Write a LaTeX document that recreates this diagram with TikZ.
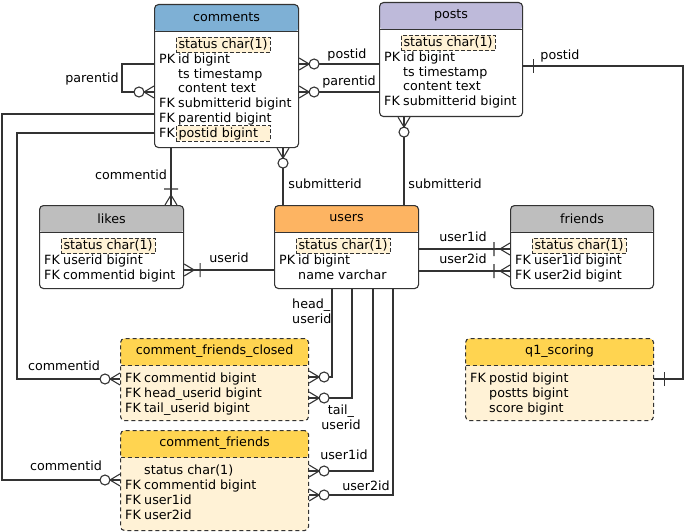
\documentclass[tikz,border=0pt]{standalone}
\usepackage{fontspec}
\setmainfont{DejaVu Sans}
\usetikzlibrary{calc}

\definecolor{cmhead}{HTML}{7EB0D5}
\definecolor{pshead}{HTML}{BEBADA}
\definecolor{ushead}{HTML}{FDB462}
\definecolor{grhead}{HTML}{BEBEBE}
\definecolor{ylhead}{HTML}{FFD450}
\definecolor{cream}{HTML}{FFF2D6}
\definecolor{ink}{HTML}{333333}

% zero or many
\pgfdeclarearrow{
  name = zmany,
  setup code = {
    \pgfarrowssettipend{0pt}
    \pgfarrowssetlineend{0pt}
    \pgfarrowssetbackend{-20pt}
  },
  drawing code = {
    \pgfsetdash{}{0pt}
    \pgfpathmoveto{\pgfqpoint{0pt}{6pt}}
    \pgfpathlineto{\pgfqpoint{-10pt}{0pt}}
    \pgfpathlineto{\pgfqpoint{0pt}{-6pt}}
    \pgfusepathqstroke
    \pgfpathcircle{\pgfqpoint{-15pt}{0pt}}{5pt}
    \pgfsetfillcolor{white}
    \pgfusepathqfillstroke
  }
}
% one or many
\pgfdeclarearrow{
  name = omany,
  setup code = {
    \pgfarrowssettipend{0pt}
    \pgfarrowssetlineend{0pt}
    \pgfarrowssetbackend{-17pt}
  },
  drawing code = {
    \pgfsetdash{}{0pt}
    \pgfpathmoveto{\pgfqpoint{0pt}{6pt}}
    \pgfpathlineto{\pgfqpoint{-10pt}{0pt}}
    \pgfpathlineto{\pgfqpoint{0pt}{-6pt}}
    \pgfpathmoveto{\pgfqpoint{-16pt}{7pt}}
    \pgfpathlineto{\pgfqpoint{-16pt}{-7pt}}
    \pgfusepathqstroke
  }
}
% exactly one
\pgfdeclarearrow{
  name = one,
  setup code = {
    \pgfarrowssettipend{0pt}
    \pgfarrowssetlineend{0pt}
    \pgfarrowssetbackend{-11pt}
  },
  drawing code = {
    \pgfsetdash{}{0pt}
    \pgfpathmoveto{\pgfqpoint{-10pt}{7pt}}
    \pgfpathlineto{\pgfqpoint{-10pt}{-7pt}}
    \pgfusepathqstroke
  }
}

% one field row: [opts]{table}{index}{prefix}{text}
\newcommand{\erfld}[5][]{%
  \node[fldtxt] (#2-#3p) at ($(#2.north west)+(5,{41+14.75*#3})$) {#4};
  \node[fldtxt, #1] (#2-#3) at ($(#2.north west)+(24,{41+14.75*#3})$) {#5};
}

\tikzset{
  sepline/.style={},
  tbl/.style={draw=ink, line width=1.1pt, rounded corners=4pt, fill=white,
    inner sep=0pt, anchor=north west,
    path picture={
      \fill[#1] (path picture bounding box.north west) rectangle
        ([yshift=-27pt]path picture bounding box.north east);
      \draw[ink, line width=1.1pt, sepline]
        ([yshift=-27pt]path picture bounding box.north west) --
        ([yshift=-27pt]path picture bounding box.north east);
    }},
  vtbl/.style={tbl=#1, fill=cream, dash pattern=on 4pt off 3pt,
    sepline/.style={dash pattern=on 4pt off 3pt}},
  ttl/.style={inner sep=0pt},
  fldtxt/.style={inner sep=0pt, anchor=west, text height=10pt, text depth=2.5pt},
  hl/.style={draw=ink, line width=1.1pt, dash pattern=on 4pt off 2pt, fill=cream,
    inner xsep=2.5pt, inner ysep=1.5pt, xshift=-2.5pt},
  lbl/.style={inner sep=0pt, text height=10pt, text depth=2.5pt},
  rel/.style={draw=ink, line width=1.1pt}
}

\begin{document}
\begin{tikzpicture}[x=1pt, y=-1pt, font=\fontsize{12.7}{14.7}\selectfont]
  \useasboundingbox (0,0) rectangle (685,532);

  % tables
  \node[tbl=cmhead, minimum width=144pt, minimum height=143pt] (cm) at (154,4) {};
  \node[ttl] (cm-t) at ($(cm.north)+(0,13.5)$) {comments};
  \erfld[hl]{cm}{0}{}{status char(1)}
  \erfld{cm}{1}{PK}{id bigint}
  \erfld{cm}{2}{}{ts timestamp}
  \erfld{cm}{3}{}{content text}
  \erfld{cm}{4}{FK}{submitterid bigint}
  \erfld{cm}{5}{FK}{parentid bigint}
  \erfld[hl, text width=89pt, align=left]{cm}{6}{FK}{postid bigint}

  \node[tbl=pshead, minimum width=143pt, minimum height=114pt] (ps) at (379,2) {};
  \node[ttl] (ps-t) at ($(ps.north)+(0,13.5)$) {posts};
  \erfld[hl]{ps}{0}{}{status char(1)}
  \erfld{ps}{1}{PK}{id bigint}
  \erfld{ps}{2}{}{ts timestamp}
  \erfld{ps}{3}{}{content text}
  \erfld{ps}{4}{FK}{submitterid bigint}

  \node[tbl=grhead, minimum width=144pt, minimum height=83pt] (lk) at (39,205) {};
  \node[ttl] (lk-t) at ($(lk.north)+(0,13.5)$) {likes};
  \erfld[hl]{lk}{0}{}{status char(1)}
  \erfld{lk}{1}{FK}{userid bigint}
  \erfld{lk}{2}{FK}{commentid bigint}

  \node[tbl=ushead, minimum width=144pt, minimum height=83pt] (us) at (274,205) {};
  \node[ttl] (us-t) at ($(us.north)+(0,13.5)$) {users};
  \erfld[hl]{us}{0}{}{status char(1)}
  \erfld{us}{1}{PK}{id bigint}
  \erfld{us}{2}{}{name varchar}

  \node[tbl=grhead, minimum width=143pt, minimum height=83pt] (fr) at (510,205) {};
  \node[ttl] (fr-t) at ($(fr.north)+(0,13.5)$) {friends};
  \erfld[hl]{fr}{0}{}{status char(1)}
  \erfld{fr}{1}{FK}{user1id bigint}
  \erfld{fr}{2}{FK}{user2id bigint}

  \node[vtbl=ylhead, minimum width=188pt, minimum height=82pt] (cfc) at (120,338) {};
  \node[ttl] (cfc-t) at ($(cfc.north)+(0,13.5)$) {comment\_friends\_closed};
  \erfld{cfc}{0}{FK}{commentid bigint}
  \erfld{cfc}{1}{FK}{head\_userid bigint}
  \erfld{cfc}{2}{FK}{tail\_userid bigint}

  \node[vtbl=ylhead, minimum width=188pt, minimum height=100pt] (cf) at (120,430) {};
  \node[ttl] (cf-t) at ($(cf.north)+(0,13.5)$) {comment\_friends};
  \erfld{cf}{0}{}{status char(1)}
  \erfld{cf}{1}{FK}{commentid bigint}
  \erfld{cf}{2}{FK}{user1id}
  \erfld{cf}{3}{FK}{user2id}

  \node[vtbl=ylhead, minimum width=188pt, minimum height=82pt] (qs) at (465,338) {};
  \node[ttl] (qs-t) at ($(qs.north)+(0,13.5)$) {q1\_scoring};
  \erfld{qs}{0}{FK}{postid bigint}
  \erfld{qs}{1}{}{postts bigint}
  \erfld{qs}{2}{}{score bigint}

  % relations
  \draw[rel, -zmany] (cm.west |- 0,64) -- ++(-32,0) |- (cm.west |- 0,92);
  \draw[rel, -zmany] (ps.west |- 0,64) -- (cm.east |- 0,64);
  \draw[rel, -zmany] (ps.west |- 0,92) -- (cm.east |- 0,92);
  \draw[rel, -zmany] (us.north -| 283,0) -- (cm.south -| 283,0);
  \draw[rel, -zmany] (us.north -| 404,0) -- (ps.south -| 404,0);
  \draw[rel, one-one] (ps.east |- 0,66) -- (683,66) |- (qs.east |- 0,379);
  \draw[rel, -omany] (cm.south -| 171,0) -- (lk.north -| 171,0);
  \draw[rel, -omany] (us.west |- 0,270) -- (lk.east |- 0,270);
  \draw[rel, -omany] (us.east |- 0,249) -- (fr.west |- 0,249);
  \draw[rel, -omany] (us.east |- 0,271) -- (fr.west |- 0,271);
  \draw[rel, -zmany] (cm.west |- 0,114) -- (2,114) |- (cf.west |- 0,480);
  \draw[rel, -zmany] (cm.west |- 0,133) -- (17,133) |- (cfc.west |- 0,379);
  \draw[rel, -zmany] (us.south -| 332,0) |- (cfc.east |- 0,377);
  \draw[rel, -zmany] (us.south -| 352,0) |- (cfc.east |- 0,398);
  \draw[rel, -zmany] (us.south -| 373,0) |- (cf.east |- 0,471);
  \draw[rel, -zmany] (us.south -| 393,0) |- (cf.east |- 0,495);

  % labels
  \node[lbl] (l-par1) at (92,79) {parentid};
  \node[lbl] (l-post1) at (347,55) {postid};
  \node[lbl] (l-par2) at (349,82) {parentid};
  \node[lbl] (l-post2) at (560,56) {postid};
  \node[lbl] (l-cmt1) at (131,176) {commentid};
  \node[lbl] (l-sub1) at (325,185) {submitterid};
  \node[lbl] (l-sub2) at (445,185) {submitterid};
  \node[lbl] (l-usr) at (229,259) {userid};
  \node[lbl] (l-u1a) at (463,238) {user1id};
  \node[lbl] (l-u2a) at (463,260) {user2id};
  \node[inner sep=0pt, align=left, anchor=west] (l-head) at (292,311) {head\_\\userid};
  \node[inner sep=0pt, align=center] (l-tail) at (341,417) {tail\_\\userid};
  \node[lbl] (l-u1b) at (344,456) {user1id};
  \node[lbl] (l-u2b) at (366,487) {user2id};
  \node[lbl] (l-cmt2) at (64,367) {commentid};
  \node[lbl] (l-cmt3) at (66,467) {commentid};
\end{tikzpicture}
\end{document}
